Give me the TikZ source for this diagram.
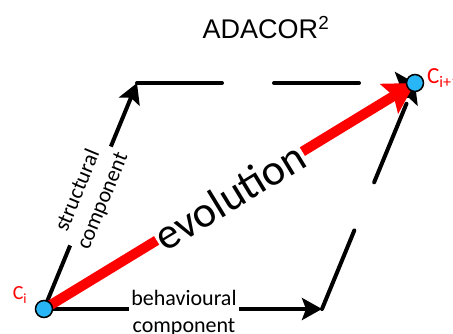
\documentclass[tikz,border=0pt]{standalone}
\usepackage{fontspec}
\setmainfont{Carlito}
\newfontfamily\titlefont{Liberation Sans}
\usetikzlibrary{arrows.meta}
\definecolor{statecol}{RGB}{41,182,246}
\begin{document}
\begin{tikzpicture}[x=1pt,y=-1pt,
  state/.style={circle,draw=black,line width=1.5pt,fill=statecol,minimum size=17pt,inner sep=0pt},
  side/.style={line width=4pt,-{Stealth[length=20pt,width=22pt,inset=4pt]}},
  gapped/.style={side,line cap=round,dash pattern=on 85pt off 52pt},
  lbl/.style={fill=white,align=center,inner sep=2pt,font=\fontsize{22}{27}\selectfont}]
\useasboundingbox (0,0) rectangle (453,334);
\coordinate (ci) at (44,309);
\coordinate (cj) at (415,83);
\coordinate (tl) at (137,83);
\coordinate (br) at (322,309);
% structural and behavioural sides
\draw[side] (ci) -- node[lbl,sloped] (str) {structural\\component} (tl);
\draw[side] (ci) -- (br);
\node[lbl] (beh) at (184,313) {behavioural\\component};
\draw[gapped] (tl) -- (cj);
\draw[gapped] (br) -- (cj);
% evolution
\draw[red,line width=10pt,-{Stealth[length=30pt,width=34pt,inset=5pt]}] (ci) -- node[sloped,fill=white,text=black,inner sep=1pt,font=\fontsize{44}{44}\selectfont] (evo) {evolution} (cj);
\node[state] (cinode) at (ci) {};
\node[state] (cjnode) at (cj) {};
\node[red,font=\fontsize{20}{24}\selectfont] (cilbl) at (20,295) {C\textsubscript{i}};
\node[red,anchor=west,inner sep=0pt,font=\fontsize{23}{26}\selectfont] (cjlbl) at (427,78) {C\textsubscript{i+1}};
\node[font=\titlefont\fontsize{27}{30}\selectfont] (title) at (266,28) {ADACOR\textsuperscript{2}};
\end{tikzpicture}
\end{document}
